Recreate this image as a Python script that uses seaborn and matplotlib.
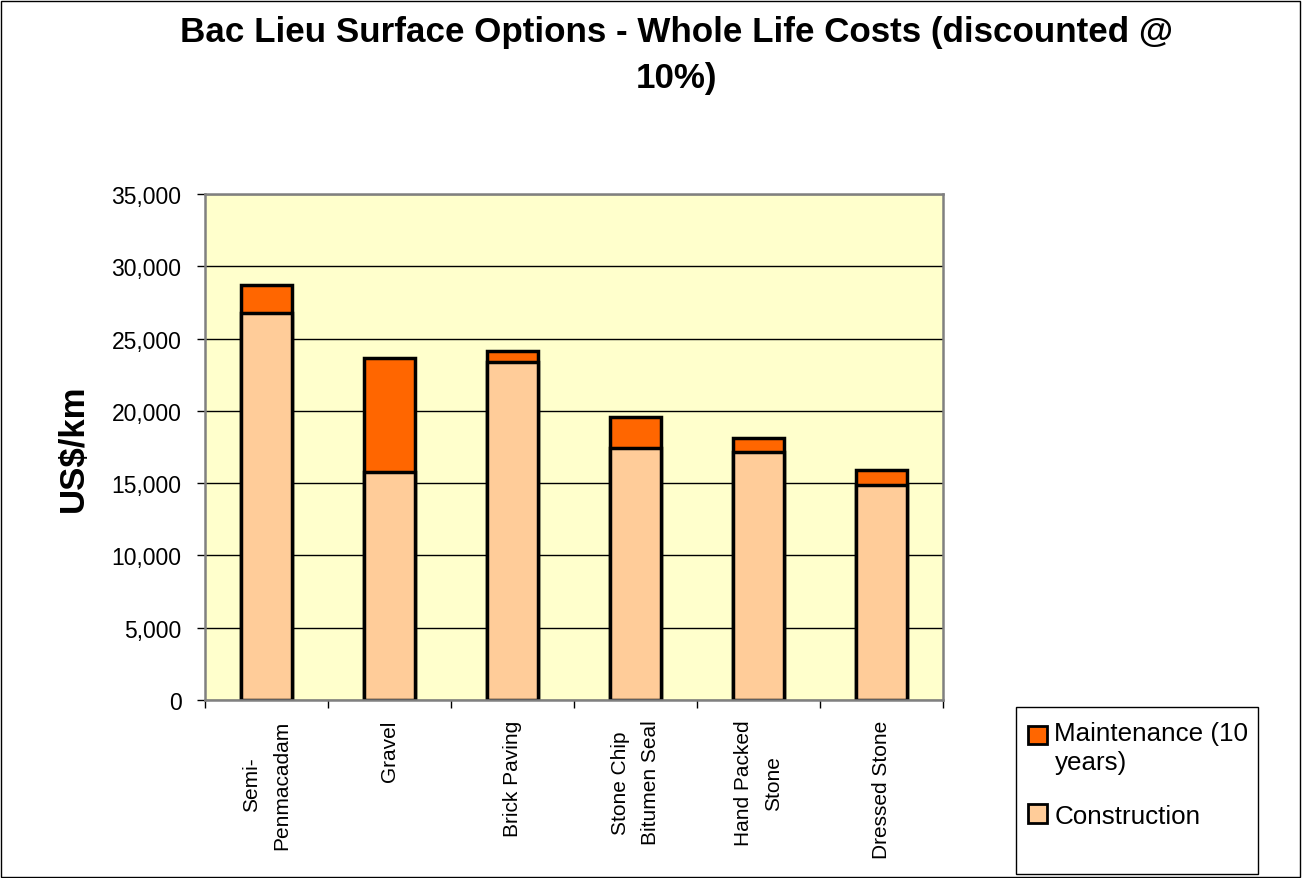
import matplotlib
matplotlib.use("Agg")
import matplotlib.pyplot as plt
import seaborn as sns
import pandas as pd
import numpy as np
from matplotlib.patches import Rectangle, Patch
from matplotlib.ticker import FuncFormatter
from matplotlib.legend_handler import HandlerPatch

# ---- data ----
categories = ["Semi-\nPenmacadam", "Gravel", "Brick Paving",
              "Stone Chip\nBitumen Seal", "Hand Packed\nStone", "Dressed Stone"]
construction = [26800, 15800, 23350, 17450, 17150, 14850]
maintenance = [1900, 7850, 800, 2150, 1000, 1050]
yticks = [0, 5000, 10000, 15000, 20000, 25000, 30000, 35000]
title = "Bac Lieu Surface Options - Whole Life Costs (discounted @\n10%)"
ylabel = "US$/km"
series_labels = ["Maintenance (10\nyears)", "Construction"]
maint_color = "#FF6600"
constr_color = "#FFCC99"

plt.rcParams['font.family'] = ['Liberation Sans', 'DejaVu Sans']

df = pd.DataFrame({"cat": categories, "construction": construction,
                   "maintenance": maintenance})
df["total"] = df["construction"] + df["maintenance"]

fig = plt.figure(figsize=(13.02, 8.79), dpi=100)
ax = fig.add_axes([205/1302, 1-701/879, 738/1302, 506/879])
ax.set_facecolor("#FFFFCC")

sns.barplot(data=df, x="cat", y="total", color=maint_color, saturation=1,
            edgecolor="black", linewidth=2.5, width=0.41, errorbar=None, ax=ax)
sns.barplot(data=df, x="cat", y="construction", color=constr_color, saturation=1,
            edgecolor="black", linewidth=2.5, width=0.41, errorbar=None, ax=ax)

ax.set_xlim(-0.5, len(categories) - 0.5)
ax.set_ylim(0, 35000)
ax.set_yticks(yticks)
ax.yaxis.set_major_formatter(FuncFormatter(lambda v, p: f"{int(v):,}"))
ax.yaxis.grid(True, color="black", linewidth=1)
ax.xaxis.grid(False)
ax.set_axisbelow(True)

for s in ax.spines.values():
    s.set_color("#808080")
    s.set_linewidth(1.8)

ax.tick_params(axis="y", direction="out", length=6, width=1, color="black",
               labelsize=16.5, pad=11)
ax.set_xticks(np.arange(-0.5, len(categories), 1.0), minor=True)
ax.tick_params(axis="x", which="minor", direction="out", length=6, width=1, color="black")
ax.tick_params(axis="x", which="major", length=0, pad=14, labelrotation=90)
for lbl in ax.get_xticklabels():
    lbl.set_fontsize(15)
    lbl.set_linespacing(1.75)

ax.set_xlabel("")
ax.set_ylabel(ylabel, fontsize=25, fontweight="bold")
ax.yaxis.set_label_coords(-0.156, 0.5)

fig.text(677/1302, 1-16/879, title, ha="center", va="top", fontsize=25.2,
         fontweight="bold", linespacing=1.5)

# figure border
fig.patches.append(Rectangle((0.0008, 0.0015), 0.9975, 0.9965, transform=fig.transFigure,
                             fill=False, edgecolor="black", linewidth=1))
# legend box
fig.patches.append(Rectangle((1016/1302, 1-875/879), 242/1302, 167/879,
                             transform=fig.transFigure, fill=False,
                             edgecolor="black", linewidth=1))


class TopHandler(HandlerPatch):
    def __init__(self, dy=0.0, **kw):
        super().__init__(**kw)
        self.dy = dy

    def create_artists(self, legend, orig_handle, xdescent, ydescent, width, height,
                       fontsize, trans):
        p = Rectangle((-xdescent, -ydescent + self.dy * fontsize), width, height)
        self.update_prop(p, orig_handle, legend)
        p.set_transform(trans)
        return [p]


h_maint = Patch(facecolor=maint_color, edgecolor="black", linewidth=2, label=series_labels[0])
h_constr = Patch(facecolor=constr_color, edgecolor="black", linewidth=2, label=series_labels[1])
leg = fig.legend(handles=[h_maint, h_constr], loc="upper left",
                 bbox_to_anchor=(1028/1302, 1-722/879),
                 frameon=False, fontsize=18.7, handlelength=0.72, handleheight=0.72,
                 handletextpad=0.3, labelspacing=1.15, borderpad=0, borderaxespad=0,
                 handler_map={h_maint: TopHandler(dy=0.5), h_constr: TopHandler(dy=0.0)})
for t in leg.get_texts():
    t.set_linespacing(1.25)

fig.savefig("out.png", dpi=100)
